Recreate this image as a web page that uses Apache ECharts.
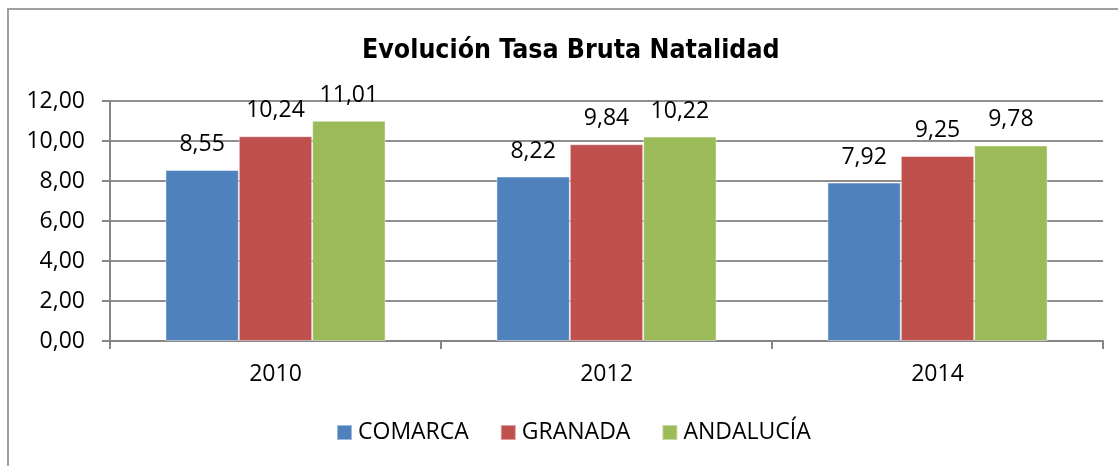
<!DOCTYPE html>
<html>
<head>
<meta charset="utf-8">
<title>Evolución Tasa Bruta Natalidad</title>
<script src="https://cdn.jsdelivr.net/npm/echarts@6/dist/echarts.min.js"></script>
<style>
  html, body {
    margin: 0;
    padding: 0;
    background: #fff;
  }
  #chart {
    width: 1118px;
    height: 466px;
  }
</style>
</head>
<body>
<div id="chart"></div>
<script>
const years = ['2010', '2012', '2014']
const comarca = [8.55, 8.22, 7.92]
const granada = [10.24, 9.84, 9.25]
const andalucia = [11.01, 10.22, 9.78]
const seriesNames = ['COMARCA', 'GRANADA', 'ANDALUCÍA']

const FONT = "'Open Sans', 'Liberation Sans', sans-serif"
const fmt = v => v.toFixed(2).replace('.', ',')

const makeBar = (name, data, color) => ({
  name: name,
  type: 'bar',
  data: data,
  barGap: '0%',
  barCategoryGap: '33.5%',
  itemStyle: {
    color: color,
    borderColor: 'rgba(255,255,255,0.45)',
    borderWidth: 1
  },
  label: {
    show: true,
    position: 'top',
    distance: 14,
    color: '#000',
    fontFamily: FONT,
    fontSize: 23,
    formatter: p => fmt(p.value)
  }
})

const chart = echarts.init(document.getElementById('chart'))
chart.setOption({
  animation: false,
  title: {
    text: 'Evolución Tasa Bruta Natalidad',
    left: 362,
    top: 38,
    padding: 0,
    textStyle: {
      fontFamily: "'Liberation Sans Narrow', 'DejaVu Sans Condensed', sans-serif",
      fontWeight: 'bold',
      fontSize: 26.5,
      color: '#000'
    }
  },
  legend: {
    data: seriesNames,
    left: 336,
    top: 421,
    padding: 0,
    icon: 'rect',
    itemWidth: 15,
    itemHeight: 15,
    itemGap: 31,
    textStyle: {
      fontFamily: FONT,
      fontSize: 23,
      color: '#000',
      padding: [0, 0, 0, 1]
    }
  },
  grid: {
    left: 110,
    right: 15,
    top: 101,
    bottom: 125
  },
  xAxis: {
    type: 'category',
    data: years,
    axisLine: { lineStyle: { color: '#868686', width: 2 } },
    axisTick: { show: true, length: 8, lineStyle: { color: '#868686', width: 2 } },
    axisLabel: {
      margin: 22,
      color: '#000',
      fontFamily: FONT,
      fontSize: 23
    }
  },
  yAxis: {
    type: 'value',
    min: 0,
    max: 12,
    interval: 2,
    axisLine: { show: true, lineStyle: { color: '#868686', width: 2 } },
    axisTick: { show: true, length: 8, lineStyle: { color: '#868686', width: 2 } },
    splitLine: { lineStyle: { color: '#8e8e8e', width: 2 } },
    axisLabel: {
      margin: 25,
      color: '#000',
      fontFamily: FONT,
      fontSize: 23,
      formatter: v => fmt(v)
    }
  },
  graphic: [
    {
      type: 'rect',
      silent: true,
      shape: { x: 8, y: 9, width: 1300, height: 700 },
      style: { fill: null, stroke: '#a0a0a0', lineWidth: 2 }
    }
  ],
  series: [
    makeBar(seriesNames[0], comarca, '#4F81BD'),
    makeBar(seriesNames[1], granada, '#C0504D'),
    makeBar(seriesNames[2], andalucia, '#9BBB59')
  ]
})
</script>
</body>
</html>
